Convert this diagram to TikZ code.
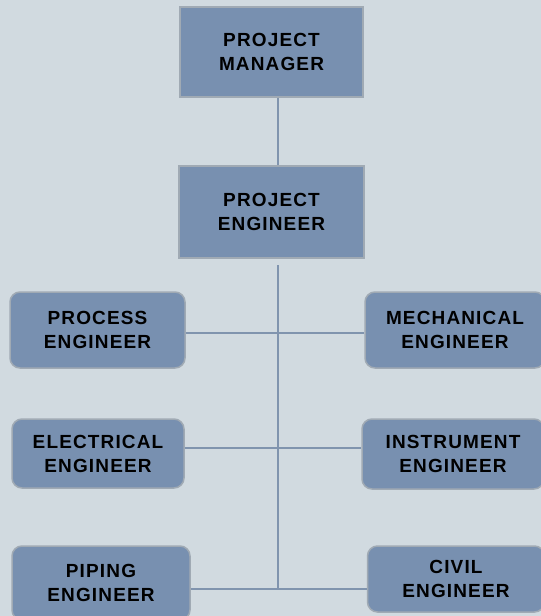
\documentclass[tikz,border=0pt]{standalone}
\usepackage{fontspec}
\setmainfont{Liberation Sans}[LetterSpace=6]
\usepackage{tikz}
\usetikzlibrary{positioning,calc}
\definecolor{bgcol}{RGB}{209,218,224}
\definecolor{boxcol}{RGB}{120,144,176}
\definecolor{edgecol}{RGB}{160,170,180}
\definecolor{linecol}{RGB}{128,148,174}
\tikzstyle{head}  = [rectangle, draw=edgecol, line width=1.5pt, fill=boxcol,
                     align=center, font=\fontsize{19}{24}\selectfont\bfseries]
\tikzstyle{staff} = [rectangle, rounded corners=10pt, draw=edgecol, line width=1.5pt,
                     fill=boxcol, align=center, font=\fontsize{19}{24}\selectfont\bfseries]
\tikzstyle{link}  = [linecol, line width=2pt]

\begin{document}
\begin{tikzpicture}[x=1pt, y=-1pt]
		\fill[bgcol] (0,0) rectangle (541,616);
		\useasboundingbox (0,0) rectangle (541,616);

		% top of the chart
		\node[head, minimum width=183pt, minimum height=90pt] (pm) at (271.5,52) {PROJECT\\MANAGER};
		\node[head, minimum width=185pt, minimum height=92pt] (pe) at (271.5,212) {PROJECT\\ENGINEER};

		% engineers
		\node[staff, minimum width=175pt, minimum height=76pt] (proc) at (97.5,330) {PROCESS\\ENGINEER};
		\node[staff, minimum width=180pt, minimum height=76pt] (mech) at (455,330) {MECHANICAL\\ENGINEER};
		\node[staff, minimum width=172pt, minimum height=69pt] (elec) at (98,453.5) {ELECTRICAL\\ENGINEER};
		\node[staff, minimum width=182pt, minimum height=70pt] (inst) at (453,454) {INSTRUMENT\\ENGINEER};
		\node[staff, minimum width=178pt, minimum height=74pt] (pip) at (101,583) {PIPING\\ENGINEER};
		\node[staff, minimum width=177pt, minimum height=66pt] (civ) at (456,579) {CIVIL\\ENGINEER};

		% trunk
		\coordinate (top) at (278,265);
		\coordinate (j1) at (278,333);
		\coordinate (j2) at (278,448);
		\coordinate (j3) at (278,589);

		\draw[link] (pm.south -| top) -- (pe.north -| top);
		\draw[link] (top) -- (j3);
		\draw[link] (proc.east |- j1) -- (mech.west |- j1);
		\draw[link] (elec.east |- j2) -- (inst.west |- j2);
		\draw[link] (pip.east |- j3) -- (civ.west |- j3);
	\end{tikzpicture}
\end{document}
